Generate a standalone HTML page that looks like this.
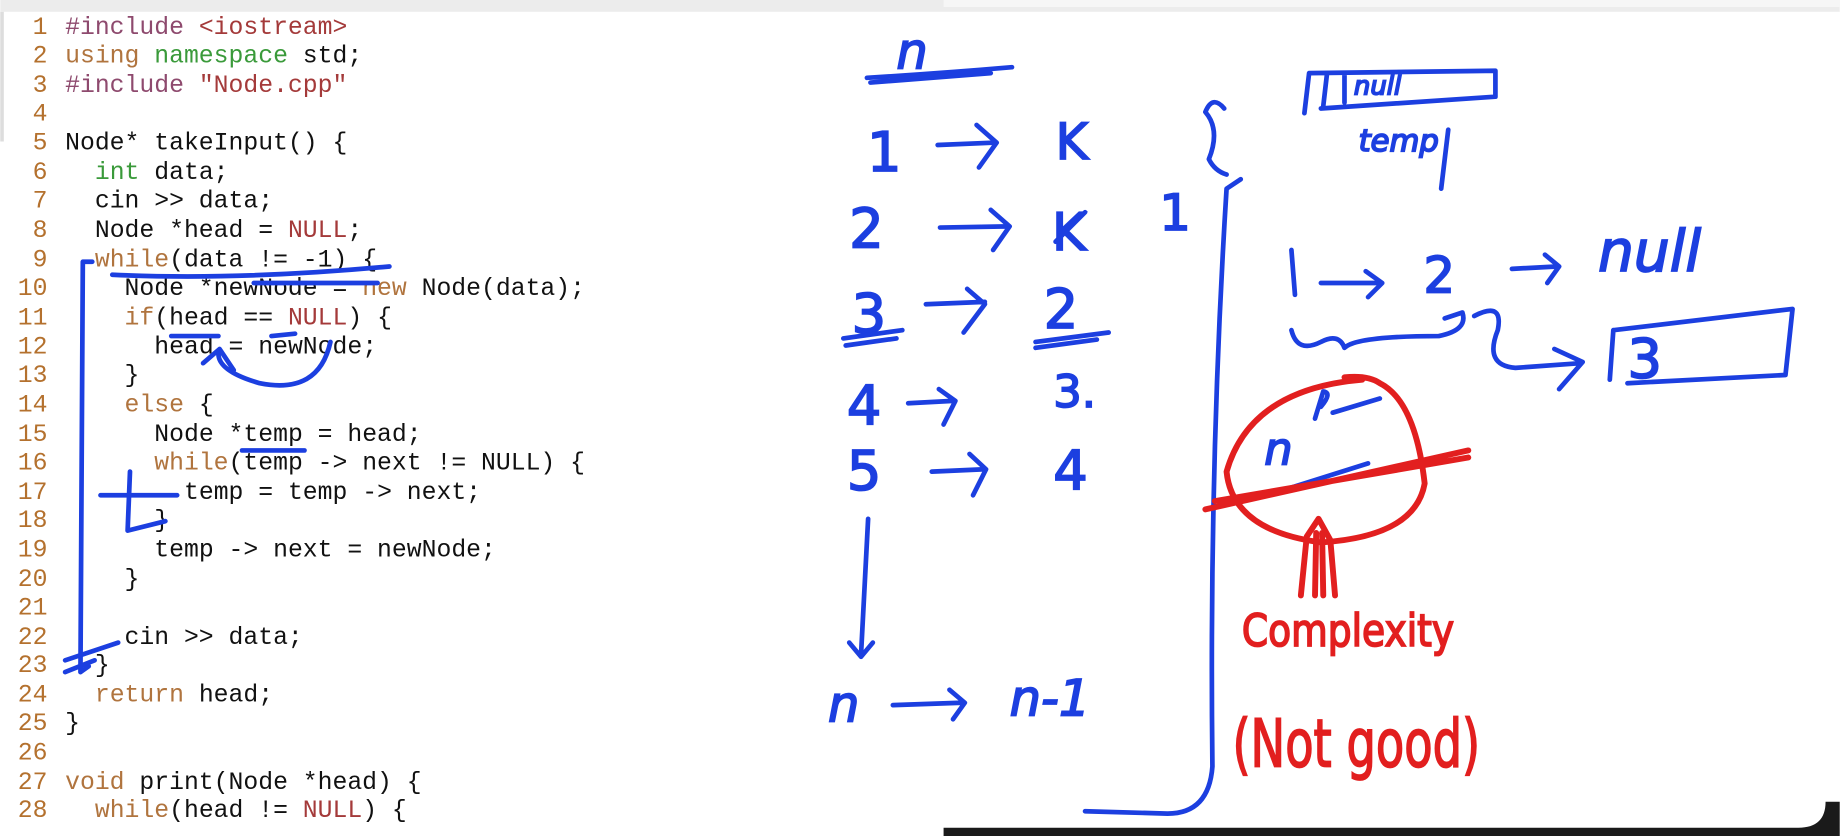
<!DOCTYPE html>
<html><head><meta charset="utf-8"><style>
html,body{margin:0;padding:0;background:#fff;overflow:hidden}
svg{display:block}
.c{font-family:"Liberation Mono",monospace;font-size:21px;fill:#111}
.n{fill:#b4712e}
.kw{fill:#b0743e}
.g{fill:#3a9a3a}
.pp{fill:#8e4a6e}
.r{fill:#a43a3a}
.b{fill:none;stroke:#1c3fe0;stroke-width:4;stroke-linecap:round;stroke-linejoin:round}
.rd{fill:none;stroke:#e21f1f;stroke-width:5;stroke-linecap:round;stroke-linejoin:round}
.ht{font-family:"DejaVu Sans",sans-serif;fill:#1c3fe0;stroke:#1c3fe0;stroke-width:1.5}
.hr{font-family:"DejaVu Sans",sans-serif;fill:#e21f1f;stroke:#e21f1f;stroke-width:1.5}
</style></head><body>
<svg width="1840" height="836" viewBox="0 0 1560 709" xmlns="http://www.w3.org/2000/svg">
<rect x="0" y="0" width="1560" height="709" fill="#fff"/>
<rect x="0" y="0" width="1560" height="10" fill="#ececec"/>
<rect x="800" y="0" width="760" height="6" fill="#f6f6f6"/>
<path d="M1548 680 Q1548 702 1525 702 L800 702 L800 709 L1560 709 L1560 680Z" fill="#1a1a1a"/>
<rect x="0" y="10" width="3" height="110" fill="#ddd"/>
<g class="c">
<text x="40" y="29" text-anchor="end" class="n">1</text><text x="55" y="29"><tspan class="pp">#include</tspan> <tspan class="r">&lt;iostream&gt;</tspan></text>
<text x="40" y="53" text-anchor="end" class="n">2</text><text x="55" y="53"><tspan class="kw">using</tspan> <tspan class="g">namespace</tspan> std;</text>
<text x="40" y="78" text-anchor="end" class="n">3</text><text x="55" y="78"><tspan class="pp">#include</tspan> <tspan class="r">"Node.cpp"</tspan></text>
<text x="40" y="102" text-anchor="end" class="n">4</text>
<text x="40" y="127" text-anchor="end" class="n">5</text><text x="55" y="127">Node* takeInput() {</text>
<text x="40" y="152" text-anchor="end" class="n">6</text><text x="80.2" y="152"><tspan class="g">int</tspan> data;</text>
<text x="40" y="176" text-anchor="end" class="n">7</text><text x="80.2" y="176">cin &gt;&gt; data;</text>
<text x="40" y="201" text-anchor="end" class="n">8</text><text x="80.2" y="201">Node *head = <tspan class="r">NULL</tspan>;</text>
<text x="40" y="226" text-anchor="end" class="n">9</text><text x="80.2" y="226"><tspan class="kw">while</tspan>(data != -1) {</text>
<text x="40" y="250" text-anchor="end" class="n">10</text><text x="105.4" y="250">Node *newNode = <tspan class="kw">new</tspan> Node(data);</text>
<text x="40" y="275" text-anchor="end" class="n">11</text><text x="105.4" y="275"><tspan class="kw">if</tspan>(head == <tspan class="r">NULL</tspan>) {</text>
<text x="40" y="300" text-anchor="end" class="n">12</text><text x="130.6" y="300">head = newNode;</text>
<text x="40" y="324" text-anchor="end" class="n">13</text><text x="105.4" y="324">}</text>
<text x="40" y="349" text-anchor="end" class="n">14</text><text x="105.4" y="349"><tspan class="kw">else</tspan> {</text>
<text x="40" y="374" text-anchor="end" class="n">15</text><text x="130.6" y="374">Node *temp = head;</text>
<text x="40" y="398" text-anchor="end" class="n">16</text><text x="130.6" y="398"><tspan class="kw">while</tspan>(temp -&gt; next != NULL) {</text>
<text x="40" y="423" text-anchor="end" class="n">17</text><text x="155.8" y="423">temp = temp -&gt; next;</text>
<text x="40" y="447" text-anchor="end" class="n">18</text><text x="130.6" y="447">}</text>
<text x="40" y="472" text-anchor="end" class="n">19</text><text x="130.6" y="472">temp -&gt; next = newNode;</text>
<text x="40" y="497" text-anchor="end" class="n">20</text><text x="105.4" y="497">}</text>
<text x="40" y="521" text-anchor="end" class="n">21</text>
<text x="40" y="546" text-anchor="end" class="n">22</text><text x="105.4" y="546">cin &gt;&gt; data;</text>
<text x="40" y="570" text-anchor="end" class="n">23</text><text x="80.2" y="570">}</text>
<text x="40" y="595" text-anchor="end" class="n">24</text><text x="80.2" y="595"><tspan class="kw">return</tspan> head;</text>
<text x="40" y="619" text-anchor="end" class="n">25</text><text x="55" y="619">}</text>
<text x="40" y="644" text-anchor="end" class="n">26</text>
<text x="40" y="669" text-anchor="end" class="n">27</text><text x="55" y="669"><tspan class="kw">void</tspan> print(Node *head) {</text>
<text x="40" y="693" text-anchor="end" class="n">28</text><text x="80.2" y="693"><tspan class="kw">while</tspan>(head != <tspan class="r">NULL</tspan>) {</text>
</g>
<!-- code annotations -->
<path class="b" d="M78 222 L70 222 L68 570 L75 565"/>
<path class="b" d="M95 233 Q200 238 330 226"/>
<path class="b" d="M215 240 L320 240"/>
<path class="b" d="M145 285 L185 285 M230 285 L250 283"/>
<path class="b" d="M280 290 Q270 335 220 325 Q185 315 185 300 M172 308 L186 296 L198 314"/>
<path class="b" d="M205 382 L258 382"/>
<path class="b" d="M85 420 L150 420 M110 400 L108 450 L140 442"/>
<path class="b" d="M55 560 L100 545 M55 570 L80 560"/>
<!-- right: table -->
<text class="ht" x="760" y="58" font-size="42" font-style="italic">n</text>
<path class="b" d="M735 66 Q800 62 858 57 M738 70 Q790 66 840 62"/>
<text class="ht" x="735" y="145" font-size="46">1</text>
<path class="b" d="M795 123 L842 121 M828 106 L845 121 L830 142"/>
<text class="ht" x="895" y="135" font-size="42">K</text>
<text class="ht" x="720" y="210" font-size="46">2</text>
<path class="b" d="M797 193 L855 192 M840 178 L856 192 L842 212"/>
<text class="ht" x="892" y="212" font-size="44">K</text>
<path class="b" d="M895 205 L920 180"/>
<text class="ht" x="983" y="195" font-size="42">1</text>
<text class="ht" x="722" y="282" font-size="46">3</text>
<path class="b" d="M715 287 L765 280 M717 293 L760 287"/>
<path class="b" d="M785 258 L835 256 M820 245 L835 258 L817 282"/>
<text class="ht" x="885" y="278" font-size="46">2</text>
<path class="b" d="M878 290 L940 282 M878 295 L930 288"/>
<text class="ht" x="718" y="360" font-size="46">4</text>
<path class="b" d="M770 342 L808 340 M796 330 L810 340 L800 360"/>
<text class="ht" x="893" y="345" font-size="38">3.</text>
<text class="ht" x="718" y="415" font-size="46">5</text>
<path class="b" d="M790 400 L835 398 M822 385 L836 398 L825 420"/>
<text class="ht" x="893" y="415" font-size="46">4</text>
<path class="b" d="M736 440 L730 555 M720 545 L730 557 L740 545"/>
<text class="ht" x="702" y="612" font-size="42" font-style="italic">n</text>
<path class="b" d="M757 598 L815 596 M805 585 L818 596 L808 610"/>
<text class="ht" x="856" y="607" font-size="42" font-style="italic">n-1</text>
<!-- braces -->
<path class="b" d="M1038 92 Q1028 80 1022 95 Q1035 110 1025 135 Q1030 145 1040 148"/>
<path class="b" d="M1052 152 L1040 160 Q1025 400 1028 650 Q1025 690 990 690 L920 688"/>
<!-- top-right box -->
<path class="b" d="M1110 62 L1268 60 L1268 82 L1120 92 M1110 62 L1106 96 M1125 64 L1122 90 M1140 63 L1140 87"/>
<text class="ht" x="1148" y="80" font-size="22" font-style="italic">null</text>
<text class="ht" x="1152" y="128" font-size="26" font-style="italic">temp</text>
<path class="b" d="M1228 110 L1222 160"/>
<!-- 1 -> 2 -> null -->
<path class="b" d="M1095 212 L1098 250"/>
<path class="b" d="M1120 240 L1170 240 M1158 230 L1172 240 L1160 252"/>
<text class="ht" x="1207" y="248" font-size="42">2</text>
<path class="b" d="M1282 228 L1320 226 M1310 216 L1322 226 L1312 240"/>
<text class="ht" x="1355" y="230" font-size="48" font-style="italic">null</text>
<path class="b" d="M1095 280 Q1100 300 1120 290 Q1135 282 1140 295 Q1150 285 1220 285 Q1245 280 1240 265 L1225 270"/>
<path class="b" d="M1250 268 Q1275 255 1270 280 Q1258 310 1285 312 L1340 308 M1318 296 L1342 307 L1322 330"/>
<path class="b" d="M1368 280 L1520 262 L1514 318 L1380 325 M1368 280 L1365 322"/>
<text class="ht" x="1380" y="320" font-size="46">3</text>
<!-- red -->
<path class="rd" d="M1155 322 Q1060 330 1040 400 Q1045 450 1120 460 Q1200 455 1208 410 Q1200 340 1170 325 Q1160 318 1140 320"/>
<text class="ht" x="1072" y="394" font-size="38" font-style="italic">n</text>
<path class="b" d="M1120 345 Q1130 333 1122 332 L1115 355 M1130 350 L1170 338"/>
<path class="b" d="M1090 415 L1160 393"/>
<path class="rd" d="M1022 432 L1245 382 M1030 425 L1245 388"/>
<path class="rd" d="M1103 505 L1108 455 L1118 440 L1128 458 L1132 505 M1115 505 L1116 452 M1122 505 L1121 452"/>
<text class="hr" x="1053" y="548" font-size="38" textLength="180" lengthAdjust="spacingAndGlyphs">Complexity</text>
<text class="hr" x="1045" y="650" font-size="56" textLength="210" lengthAdjust="spacingAndGlyphs">(Not good)</text>
</svg>
</body></html>
